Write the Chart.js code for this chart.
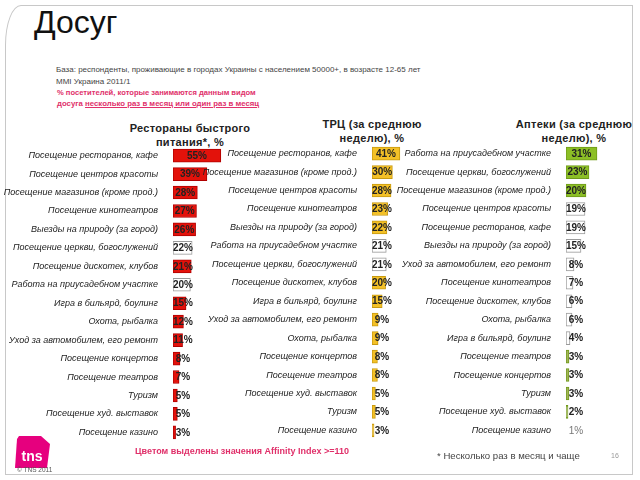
<!DOCTYPE html>
<html>
<head>
<meta charset="utf-8">
<script src="https://cdn.jsdelivr.net/npm/chart.js@4.4.1/dist/chart.umd.min.js"></script>
<style>
body { margin:0; width:640px; height:480px; background:#fff; position:relative; overflow:hidden; font-family:"Liberation Sans", Arial, sans-serif; }
.frame { position:absolute; left:5px; top:5px; width:628px; height:470px; border:1px solid #c8c8c8; border-top-left-radius:16px 40px; box-sizing:border-box; }
.abs { position:absolute; white-space:nowrap; }
canvas { position:absolute; }
.ctitle { position:absolute; font-weight:bold; font-size:11px; color:#222; text-align:center; line-height:14px; letter-spacing:0.3px; }
</style>
</head>
<body>
<div class="frame"></div>
<div class="abs" style="left:34px;top:4px;font-size:32px;color:#111;">Досуг</div>
<div class="abs" style="left:56px;top:65px;font-size:8px;color:#444;">База: респонденты, проживающие в городах Украины с населением 50000+, в возрасте 12-65 лет</div>
<div class="abs" style="left:56px;top:77px;font-size:8px;color:#444;">MMI Украина 2011/1</div>
<div class="abs" style="left:57px;top:88px;font-size:7.6px;color:#e0306a;font-weight:bold;">% посетителей, которые занимаются данным видом</div>
<div class="abs" style="left:57px;top:99px;font-size:7.8px;color:#e0306a;font-weight:bold;">досуга <u>несколько раз в месяц или один раз в месяц</u></div>

<div class="ctitle" style="left:120px;top:121px;width:140px;">Рестораны быстрого<br>питания*, %</div>
<div class="ctitle" style="left:310px;top:117px;width:124px;">ТРЦ (за среднюю<br>неделю), %</div>
<div class="ctitle" style="left:512px;top:117px;width:124px;">Аптеки (за среднюю<br>неделю), %</div>

<canvas id="c1"></canvas>
<canvas id="c2"></canvas>
<canvas id="c3"></canvas>

<svg class="abs" style="left:13px;top:434px;" width="40" height="36" viewBox="0 0 40 36">
  <path d="M6 2 L28 2 L37 10 L34 34 L2 34 L4 5 Z" fill="#e6007e"/>
  <text x="19" y="27" text-anchor="middle" font-family="Liberation Sans, Arial" font-weight="bold" font-size="14" fill="#fff">tns</text>
</svg>
<div class="abs" style="left:17px;top:466px;font-size:6.5px;color:#555;">© TNS 2011</div>
<div class="abs" style="left:135px;top:446px;font-size:9px;color:#e0306a;font-weight:bold;">Цветом выделены значения Affinity Index &gt;=110</div>
<div class="abs" style="left:437px;top:450px;font-size:9.6px;color:#444;">* Несколько раз в месяц и чаще</div>
<div class="abs" style="left:611px;top:452px;font-size:7px;color:#999;">16</div>

<script>
// ===== DATA =====
const fastFoodLabels = [
  'Посещение ресторанов, кафе', 'Посещение центров красоты', 'Посещение магазинов (кроме прод.)',
  'Посещение кинотеатров', 'Выезды на природу (за город)', 'Посещение церкви, богослужений',
  'Посещение дискотек, клубов', 'Работа на приусадебном участке', 'Игра в бильярд, боулинг',
  'Охота, рыбалка', 'Уход за автомобилем, его ремонт', 'Посещение концертов',
  'Посещение театров', 'Туризм', 'Посещение худ. выставок', 'Посещение казино'
];
const fastFoodValues = [55, 39, 28, 27, 26, 22, 21, 20, 15, 12, 11, 8, 7, 5, 5, 3];
const fastFoodAffinity = [1, 1, 1, 1, 1, 0, 1, 0, 1, 1, 1, 1, 1, 1, 1, 1];

const mallLabels = [
  'Посещение ресторанов, кафе', 'Посещение магазинов (кроме прод.)', 'Посещение центров красоты',
  'Посещение кинотеатров', 'Выезды на природу (за город)', 'Работа на приусадебном участке',
  'Посещение церкви, богослужений', 'Посещение дискотек, клубов', 'Игра в бильярд, боулинг',
  'Уход за автомобилем, его ремонт', 'Охота, рыбалка', 'Посещение концертов',
  'Посещение театров', 'Посещение худ. выставок', 'Туризм', 'Посещение казино'
];
const mallValues = [41, 30, 28, 23, 22, 21, 21, 20, 15, 9, 9, 8, 8, 5, 5, 3];
const mallAffinity = [1, 1, 1, 1, 1, 0, 0, 1, 1, 1, 1, 1, 1, 1, 1, 1];

const pharmacyLabels = [
  'Работа на приусадебном участке', 'Посещение церкви, богослужений', 'Посещение магазинов (кроме прод.)',
  'Посещение центров красоты', 'Посещение ресторанов, кафе', 'Выезды на природу (за город)',
  'Уход за автомобилем, его ремонт', 'Посещение кинотеатров', 'Посещение дискотек, клубов',
  'Охота, рыбалка', 'Игра в бильярд, боулинг', 'Посещение театров',
  'Посещение концертов', 'Туризм', 'Посещение худ. выставок', 'Посещение казино'
];
const pharmacyValues = [31, 23, 20, 19, 19, 15, 8, 7, 6, 6, 4, 3, 3, 3, 2, 1];
const pharmacyAffinity = [1, 1, 1, 0, 0, 0, 0, 0, 0, 0, 0, 1, 1, 1, 1, 0];

// value labels on bars
const valueLabels = {
  id: 'valueLabels',
  afterDatasetsDraw(chart) {
    const ctx = chart.ctx;
    const meta = chart.getDatasetMeta(0);
    ctx.save();
    ctx.textAlign = 'center';
    ctx.textBaseline = 'middle';
    meta.data.forEach((bar, i) => {
      const w = Math.max(bar.x - bar.base, 20);
      const v = chart.data.datasets[0].data[i];
      ctx.fillStyle = v <= 1 ? '#777' : '#222';
      ctx.font = (v <= 1 ? '' : 'bold ') + '10px "Liberation Sans", Arial';
      ctx.fillText(v + '%', bar.base + w / 2, bar.y + 0.5);
    });
    ctx.restore();
  }
};

function makeChart(id, left, top, width, axisWidth, max, labels, values, affinity, color, edge) {
  const el = document.getElementById(id);
  const h = 320;
  el.style.left = left + 'px';
  el.style.top = top + 'px';
  el.style.width = width + 'px';
  el.style.height = h + 'px';
  el.width = width;
  el.height = h;

  new Chart(el, {
    type: 'bar',
    data: {
      labels: labels,
      datasets: [{
        data: values,
        backgroundColor: affinity.map((a, i) => a ? color(i) : '#ffffff'),
        borderColor: affinity.map((a, i) => a ? edge : (values[i] <= 1 ? '#ffffff' : '#9a9a9a')),
        borderWidth: 1,
        borderSkipped: false,
        barThickness: 13
      }]
    },
    options: {
      indexAxis: 'y',
      responsive: false,
      animation: false,
      layout: { padding: 0 },
      plugins: { legend: { display: false }, tooltip: { enabled: false } },
      scales: {
        x: { display: false, min: 0, max: max },
        y: {
          afterFit(scale) { scale.width = axisWidth; },
          grid: { display: false },
          border: { display: false },
          ticks: {
            autoSkip: false,
            padding: 7,
            color: '#222',
            font: { family: '"Liberation Sans", Arial', style: 'italic', size: 9 }
          }
        }
      }
    },
    plugins: [valueLabels]
  });
}

makeChart('c1', 0, 134, 260, 173, 100, fastFoodLabels, fastFoodValues, fastFoodAffinity,
  () => '#e3120b', '#b00000');
makeChart('c2', 190, 132, 250, 182, 100, mallLabels, mallValues, mallAffinity,
  () => '#f4c127', '#c89a10');
makeChart('c3', 388, 132, 238, 178, 60, pharmacyLabels, pharmacyValues, pharmacyAffinity,
  (i) => pharmacyValues[i] > 5 ? '#8cbf26' : '#a3b45a', '#6f9a1a');
</script>
</body>
</html>
